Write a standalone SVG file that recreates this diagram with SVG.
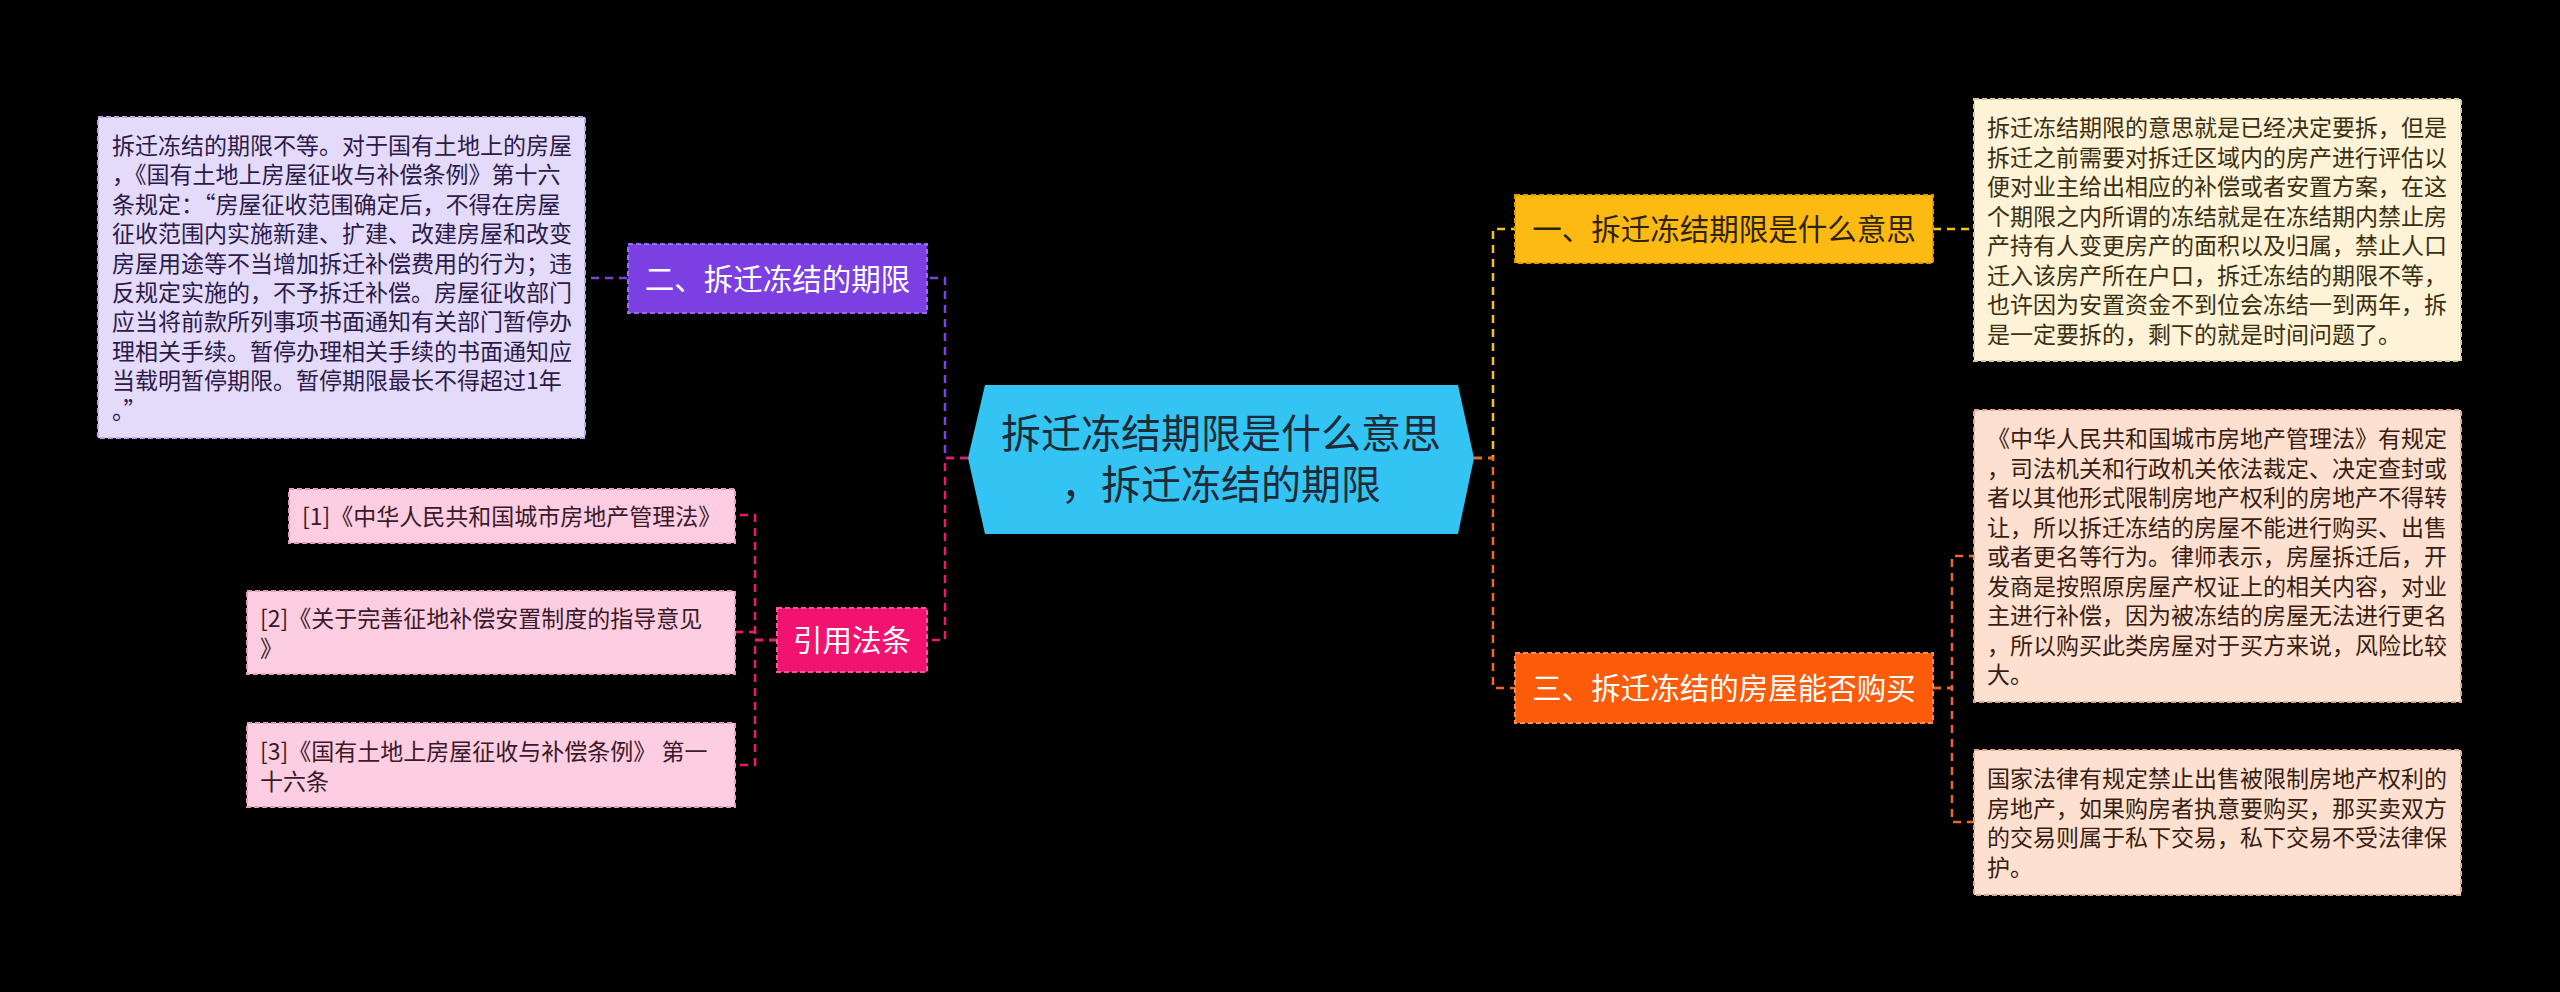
<svg xmlns="http://www.w3.org/2000/svg" width="2560" height="992" viewBox="0 0 2560 992">
<defs>
<style>
text{font-family:"Noto Sans CJK SC","Microsoft YaHei",sans-serif;}
.d{font-size:23px;}
.n{font-size:29.5px;}
.ct{font-family:"Liberation Sans","Noto Sans CJK SC",sans-serif;font-size:40px;}
.c{fill:none;stroke-width:2.5;stroke-dasharray:8 6;}
.bd{stroke-width:2;stroke-dasharray:5 3;}
</style>
</defs>
<rect x="0" y="0" width="2560" height="992" fill="#000000"/>
<g id="connectors">
<path class="c" stroke="#7B44E0" d="M968 458 H945 V278 H927"/>
<path class="c" stroke="#7B44E0" d="M627 278 H585"/>
<path class="c" stroke="#EA1A72" d="M968 458 H945 V640 H927"/>
<path class="c" stroke="#EA1A72" d="M777 640 H755 V515 H735"/>
<path class="c" stroke="#EA1A72" d="M777 640 H755 V632 H735"/>
<path class="c" stroke="#EA1A72" d="M777 640 H755 V765 H735"/>
<path class="c" stroke="#F2C31C" d="M1474 458 H1493 V229 H1515"/>
<path class="c" stroke="#F2C31C" d="M1933 229 H1974"/>
<path class="c" stroke="#F0652A" d="M1474 458 H1493 V688 H1515"/>
<path class="c" stroke="#F0652A" d="M1933 688 H1952 V556 H1974"/>
<path class="c" stroke="#F0652A" d="M1933 688 H1952 V822 H1974"/>
</g>
<g id="center">
<polygon points="985,385 1458,385 1474,458 1458,534 985,534 968,458" fill="#33C4F4"/>
<text class="ct" x="1221" y="448" text-anchor="middle" fill="#1E2B37">拆迁冻结期限是什么意思</text>
<text class="ct" x="1221" y="499" text-anchor="middle" fill="#1E2B37">，拆迁冻结的期限</text>
</g>
<g id="node-er">
<rect class="bd" x="628" y="244" width="299" height="69" fill="#7B3FE2" stroke="#9A6CF0"/>
<text class="n" x="777.5" y="289.5" text-anchor="middle" fill="#FFFFFF">二、拆迁冻结的期限</text>
</g>
<g id="detail-er">
<rect class="bd" x="98" y="117" width="487" height="321" fill="#E4DAF9" stroke="#B9A6E6"/>
<g class="d" fill="#2B1A4A">
<text x="112" y="154">拆迁冻结的期限不等。对于国有土地上的房屋</text>
<text x="112" y="183.4">，《国有土地上房屋征收与补偿条例》第十六</text>
<text x="112" y="212.8">条规定：“房屋征收范围确定后，不得在房屋</text>
<text x="112" y="242.2">征收范围内实施新建、扩建、改建房屋和改变</text>
<text x="112" y="271.6">房屋用途等不当增加拆迁补偿费用的行为；违</text>
<text x="112" y="301">反规定实施的，不予拆迁补偿。房屋征收部门</text>
<text x="112" y="330.4">应当将前款所列事项书面通知有关部门暂停办</text>
<text x="112" y="359.8">理相关手续。暂停办理相关手续的书面通知应</text>
<text x="112" y="389.2">当载明暂停期限。暂停期限最长不得超过1年</text>
<text x="112" y="418.6">。”</text>
</g>
</g>
<g id="node-law">
<rect class="bd" x="777" y="608" width="150" height="64" fill="#F2126F" stroke="#FF5A9A"/>
<text class="n" x="852" y="651" text-anchor="middle" fill="#FFFFFF">引用法条</text>
</g>
<g id="law-1">
<rect class="bd" x="289" y="489" width="446" height="54" fill="#FDCDE1" stroke="#E79BBB"/>
<text class="d" x="302" y="525" fill="#3A1A28">[1]《中华人民共和国城市房地产管理法》</text>
</g>
<g id="law-2">
<rect class="bd" x="247" y="591" width="488" height="83" fill="#FDCDE1" stroke="#E79BBB"/>
<text class="d" x="260" y="627" fill="#3A1A28">[2]《关于完善征地补偿安置制度的指导意见</text>
<text class="d" x="260" y="656.5" fill="#3A1A28">》</text>
</g>
<g id="law-3">
<rect class="bd" x="247" y="723" width="488" height="84" fill="#FDCDE1" stroke="#E79BBB"/>
<text class="d" x="260" y="760" fill="#3A1A28">[3]《国有土地上房屋征收与补偿条例》 第一</text>
<text class="d" x="260" y="789.5" fill="#3A1A28">十六条</text>
</g>
<g id="node-yi">
<rect class="bd" x="1515" y="195" width="418" height="68" fill="#FDBA12" stroke="#E09A00"/>
<text class="n" x="1724" y="240" text-anchor="middle" fill="#2E2405">一、拆迁冻结期限是什么意思</text>
</g>
<g id="detail-yi">
<rect class="bd" x="1974" y="99" width="487" height="262" fill="#FEF3D6" stroke="#D9C79A"/>
<g class="d" fill="#3B2F12">
<text x="1987" y="136">拆迁冻结期限的意思就是已经决定要拆，但是</text>
<text x="1987" y="165.5">拆迁之前需要对拆迁区域内的房产进行评估以</text>
<text x="1987" y="195">便对业主给出相应的补偿或者安置方案，在这</text>
<text x="1987" y="224.5">个期限之内所谓的冻结就是在冻结期内禁止房</text>
<text x="1987" y="254">产持有人变更房产的面积以及归属，禁止人口</text>
<text x="1987" y="283.5">迁入该房产所在户口，拆迁冻结的期限不等，</text>
<text x="1987" y="313">也许因为安置资金不到位会冻结一到两年，拆</text>
<text x="1987" y="342.5">是一定要拆的，剩下的就是时间问题了。</text>
</g>
</g>
<g id="node-san">
<rect class="bd" x="1515" y="653" width="418" height="70" fill="#FC5B0A" stroke="#FF8A4A"/>
<text class="n" x="1724" y="699" text-anchor="middle" fill="#FFFFFF">三、拆迁冻结的房屋能否购买</text>
</g>
<g id="detail-san-1">
<rect class="bd" x="1974" y="410" width="487" height="292" fill="#FDE0D0" stroke="#D9A88E"/>
<g class="d" fill="#3A1D12">
<text x="1987" y="447">《中华人民共和国城市房地产管理法》有规定</text>
<text x="1987" y="476.5">，司法机关和行政机关依法裁定、决定查封或</text>
<text x="1987" y="506">者以其他形式限制房地产权利的房地产不得转</text>
<text x="1987" y="535.5">让，所以拆迁冻结的房屋不能进行购买、出售</text>
<text x="1987" y="565">或者更名等行为。律师表示，房屋拆迁后，开</text>
<text x="1987" y="594.5">发商是按照原房屋产权证上的相关内容，对业</text>
<text x="1987" y="624">主进行补偿，因为被冻结的房屋无法进行更名</text>
<text x="1987" y="653.5">，所以购买此类房屋对于买方来说，风险比较</text>
<text x="1987" y="683">大。</text>
</g>
</g>
<g id="detail-san-2">
<rect class="bd" x="1974" y="750" width="487" height="145" fill="#FDE0D0" stroke="#D9A88E"/>
<g class="d" fill="#3A1D12">
<text x="1987" y="787">国家法律有规定禁止出售被限制房地产权利的</text>
<text x="1987" y="816.5">房地产，如果购房者执意要购买，那买卖双方</text>
<text x="1987" y="846">的交易则属于私下交易，私下交易不受法律保</text>
<text x="1987" y="875.5">护。</text>
</g>
</g>
</svg>
